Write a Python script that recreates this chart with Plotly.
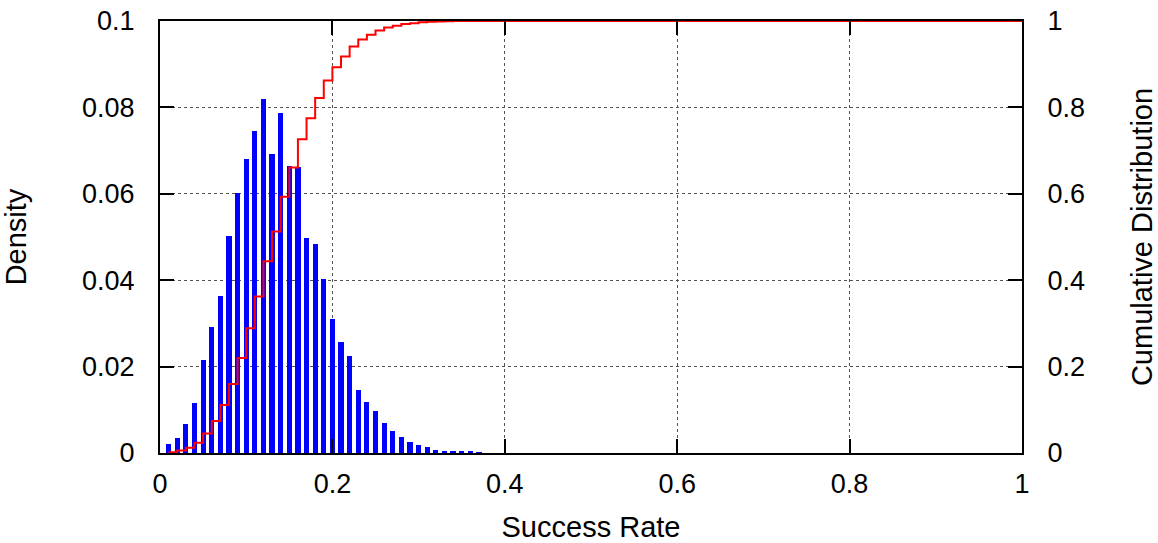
import plotly.graph_objects as go

# Bin centres (success rate) and density per bin
rate = [0.01, 0.02, 0.03, 0.04, 0.05, 0.06, 0.07, 0.08, 0.09, 0.10,
        0.11, 0.12, 0.13, 0.14, 0.15, 0.16, 0.17, 0.18, 0.19, 0.20,
        0.21, 0.22, 0.23, 0.24, 0.25, 0.26, 0.27, 0.28, 0.29, 0.30,
        0.31, 0.32, 0.33, 0.34, 0.35, 0.36, 0.37]
density = [0.0020, 0.0034, 0.0067, 0.0116, 0.0215, 0.0292, 0.0364, 0.0503, 0.0602, 0.0681,
           0.0745, 0.0820, 0.0693, 0.0787, 0.0665, 0.0662, 0.0498, 0.0483, 0.0403, 0.0310,
           0.0257, 0.0224, 0.0145, 0.0118, 0.0097, 0.0069, 0.0050, 0.0037, 0.0025, 0.0018,
           0.0013, 0.0006, 0.0004, 0.0003, 0.0003, 0.0003, 0.0001]

# Cumulative distribution (step plot)
cdf_x = [0.01, 0.02, 0.03, 0.04, 0.05, 0.06, 0.07, 0.08, 0.09, 0.10,
         0.11, 0.12, 0.13, 0.14, 0.15, 0.16, 0.17, 0.18, 0.19, 0.20,
         0.21, 0.22, 0.23, 0.24, 0.25, 0.26, 0.27, 0.28, 0.29, 0.30,
         0.31, 0.32, 0.33, 0.34, 0.40, 1.00]
cdf_y = [0.002, 0.006, 0.012, 0.024, 0.045, 0.074, 0.111, 0.160, 0.220, 0.289,
         0.362, 0.444, 0.513, 0.593, 0.661, 0.726, 0.775, 0.822, 0.862, 0.893,
         0.918, 0.941, 0.957, 0.968, 0.978, 0.985, 0.989, 0.993, 0.995, 0.997,
         0.998, 0.999, 0.9995, 1.0, 1.0, 1.0]

x_ticks = [0, 0.2, 0.4, 0.6, 0.8, 1]
x_labels = ["0", "0.2", "0.4", "0.6", "0.8", "1"]
y_ticks = [0, 0.02, 0.04, 0.06, 0.08, 0.1]
y_labels = ["0", "0.02", "0.04", "0.06", "0.08", "0.1"]
y2_ticks = [0, 0.2, 0.4, 0.6, 0.8, 1]
y2_labels = ["0", "0.2", "0.4", "0.6", "0.8", "1"]

FONT = "Liberation Sans, Arial, sans-serif"
GRID = dict(showgrid=True, gridcolor="#555555", griddash="3px,3px", gridwidth=1)

fig = go.Figure()
fig.add_trace(go.Bar(x=rate, y=density, width=0.006,
                     marker=dict(color="#0000ff", line=dict(width=0)),
                     showlegend=False))
fig.add_trace(go.Scatter(x=cdf_x, y=cdf_y, yaxis="y2", mode="lines",
                         line=dict(color="#ff0000", width=2, shape="hv"),
                         showlegend=False))

fig.update_layout(
    width=1158, height=543,
    margin=dict(l=160, r=136, t=21, b=90, autoexpand=False),
    paper_bgcolor="white", plot_bgcolor="white",
    font=dict(family=FONT, color="black", size=26),
    xaxis=dict(range=[0, 1], tickvals=x_ticks, ticktext=x_labels,
               ticks="inside", ticklen=14, tickwidth=1.5, tickcolor="black",
               showline=True, linecolor="black", linewidth=2, mirror="ticks",
               zeroline=False, ticklabelstandoff=6, automargin=False,
               ticklabeloverflow="allow",
               tickfont=dict(size=27),
               title=dict(text="Success Rate", font=dict(size=29), standoff=20),
               **GRID),
    yaxis=dict(range=[0, 0.1], tickvals=y_ticks, ticktext=y_labels,
               ticks="inside", ticklen=14, tickwidth=1.5, tickcolor="black",
               showline=True, linecolor="black", linewidth=2, mirror=True,
               zeroline=False, ticklabelstandoff=18, automargin=False,
               ticklabeloverflow="allow",
               tickfont=dict(size=27),
               title=dict(text="Density", font=dict(size=29), standoff=50),
               **GRID),
    yaxis2=dict(range=[0, 1], tickvals=y2_ticks, ticktext=y2_labels,
                overlaying="y", side="right",
                ticks="inside", ticklen=14, tickwidth=1.5, tickcolor="black",
                showline=True, linecolor="black", linewidth=2,
                showgrid=False, zeroline=False, ticklabelstandoff=18,
                automargin=False, ticklabeloverflow="allow",
                tickfont=dict(size=27),
                title=dict(text="Cumulative Distribution", font=dict(size=29), standoff=64)),
    bargap=0,
)

fig.write_html(
    "out.html",
    config={"displayModeBar": False},
    post_script="document.body.style.margin='0';document.body.style.overflow='hidden';",
)
